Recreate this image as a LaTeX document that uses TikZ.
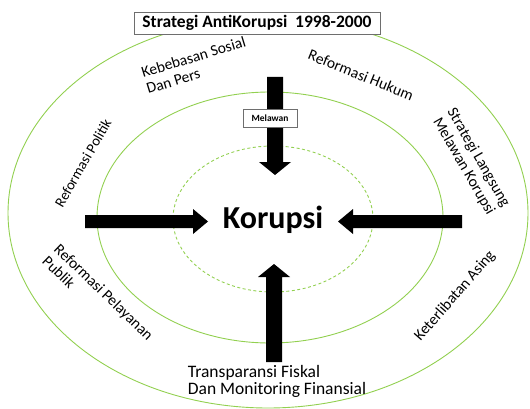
\documentclass[tikz,border=0pt]{standalone}
\usepackage{fontspec}
\setmainfont{Carlito}
\definecolor{ringgreen}{RGB}{146,208,80}
\definecolor{boxgray}{RGB}{110,110,110}
\tikzset{
  ring/.style={draw=ringgreen, line width=0.9pt},
  dashring/.style={draw=ringgreen, line width=0.9pt, dash pattern=on 3pt off 2.5pt},
  lbl/.style={font=\fontsize{15.5}{17}\selectfont, inner sep=0pt, text=black},
  bigarrow/.style={fill=black},
  titlebox/.style={draw=boxgray, fill=white, line width=0.8pt, font=\bfseries\fontsize{17.5}{19}\selectfont, minimum width=246pt, minimum height=22pt, inner sep=0pt},
  smallbox/.style={draw=boxgray, fill=white, line width=0.7pt, font=\bfseries\fontsize{9.5}{11}\selectfont, minimum width=54pt, minimum height=18pt, inner sep=0pt}
}
\begin{document}
\begin{tikzpicture}[x=1pt,y=-1pt]
\useasboundingbox (0,0) rectangle (530,409);
% rings
\draw[ring] (268,213) ellipse [x radius=260pt, y radius=195pt];
\draw[ring] (270,217.5) ellipse [x radius=173pt, y radius=125.5pt];
\draw[dashring] (273,219) ellipse [x radius=100pt, y radius=73pt];
% arrows
\fill[bigarrow] (85,215) -- (193,215) -- (193,209) -- (208,221.5) -- (193,234) -- (193,228) -- (85,228) -- cycle;
\fill[bigarrow] (462,215) -- (353,215) -- (353,209) -- (338,221.5) -- (353,234) -- (353,228) -- (462,228) -- cycle;
\fill[bigarrow] (267,77) -- (267,162) -- (259,162) -- (275,175) -- (291,162) -- (283,162) -- (283,77) -- cycle;
\fill[bigarrow] (266,362) -- (266,277) -- (258,277) -- (274,264) -- (290,277) -- (282,277) -- (282,362) -- cycle;
% nodes
\node[titlebox] (title) at (257,23) {Strategi AntiKorupsi\ \ 1998-2000};
\node[smallbox] (melawan) at (270,118) {Melawan};
\node[font=\bfseries\fontsize{32}{36}\selectfont, inner sep=0pt] (korupsi) at (273,220) {Korupsi};
\node[lbl, align=left, rotate=17] (kebebasan) at (196,65) {Kebebasan Sosial\\Dan Pers};
\node[lbl, rotate=-22] (hukum) at (361,75) {Reformasi Hukum};
\node[lbl, align=center, rotate=-60] (langsung) at (471,162) {Strategi Langsung\\Melawan Korupsi};
\node[lbl, font=\fontsize{14.5}{17}\selectfont, rotate=60] (politik) at (83,163) {Reformasi Politik};
\node[lbl, align=left, rotate=-44] (pelayanan) at (98,298) {Reformasi Pelayanan\\Publik};
\node[lbl, rotate=49] (asing) at (455,296) {Keterlibatan Asing};
\node[lbl, font=\fontsize{17.5}{17}\selectfont, align=left] (transparansi) at (277,381) {Transparansi Fiskal\\Dan Monitoring Finansial};
\end{tikzpicture}
\end{document}
